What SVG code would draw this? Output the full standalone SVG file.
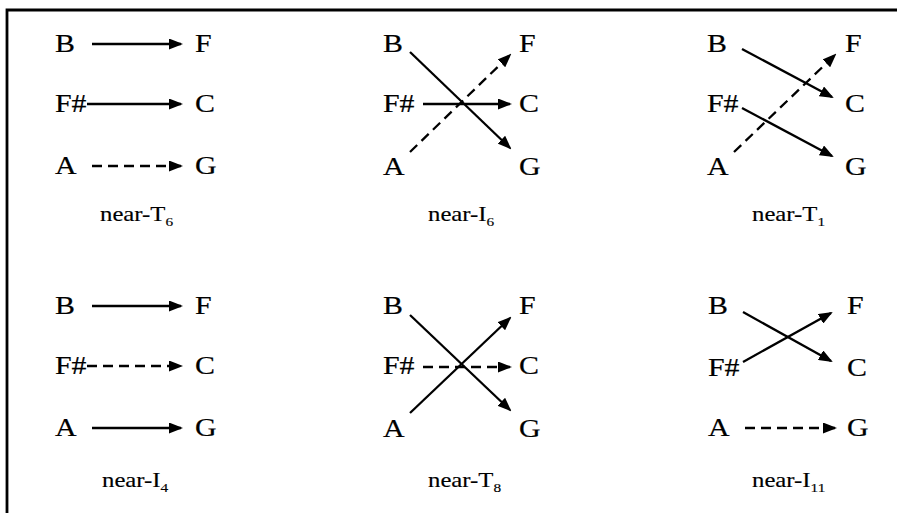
<svg xmlns="http://www.w3.org/2000/svg" width="897" height="513" viewBox="0 0 897 513">
<defs>
<style>
.n{font-family:"Liberation Serif","Times New Roman",serif;font-size:26px;fill:#000;stroke:#000;stroke-width:0.2}
.lb{font-family:"Liberation Serif","Times New Roman",serif;font-size:21px;fill:#000;stroke:#000;stroke-width:0.15}
.sub{font-size:13px}
.c{fill:none;stroke:#000;stroke-width:2.3;marker-end:url(#ah)}
.d{stroke-dasharray:10 6}
.frame{fill:none;stroke:#000;stroke-width:2.8}
</style>
<marker id="ah" markerWidth="14" markerHeight="11" refX="12" refY="5.5" orient="auto" markerUnits="userSpaceOnUse">
<path d="M0,0 L14,5.5 L0,11 z" fill="#000"/>
</marker>
</defs>
<rect width="897" height="513" fill="#fff"/>
<path class="frame" d="M7,513 V10 H897"/>

<g id="connectors">
<path class="c" d="M92,44 H181"/>
<path class="c" d="M87,104 H181"/>
<path class="c d" d="M92,166 H181"/>
<path class="c" d="M410,52 L510,148"/>
<path class="c" d="M423,104 H510"/>
<path class="c d" d="M410,152 L510,55"/>
<path class="c" d="M742,49 L832,97"/>
<path class="c" d="M742,108 L832,156"/>
<path class="c d" d="M734,152 L835,55"/>
<path class="c" d="M92,306 H181"/>
<path class="c d" d="M87,366 H181"/>
<path class="c" d="M92,428 H181"/>
<path class="c" d="M410,315 L510,410"/>
<path class="c" d="M410,413 L510,318"/>
<path class="c d" d="M423,367 H510"/>
<path class="c" d="M743,312 L831,361"/>
<path class="c" d="M743,362 L831,313"/>
<path class="c d" d="M745,428 H835"/>
</g>

<g id="p1-B"><text class="n" transform="translate(55,52) scale(1.15,1)">B</text></g>
<g id="p1-Fs"><text class="n" transform="translate(55,112) scale(1.15,1)">F#</text></g>
<g id="p1-A"><text class="n" transform="translate(55,174) scale(1.15,1)">A</text></g>
<g id="p1-F"><text class="n" transform="translate(195,52) scale(1.15,1)">F</text></g>
<g id="p1-C"><text class="n" transform="translate(195,112) scale(1.15,1)">C</text></g>
<g id="p1-G"><text class="n" transform="translate(195,174) scale(1.15,1)">G</text></g>
<g id="p1-label"><text class="lb" transform="translate(100,221) scale(1.18,1)">near-T<tspan class="sub" dy="5">6</tspan></text></g>

<g id="p2-B"><text class="n" transform="translate(383,52) scale(1.15,1)">B</text></g>
<g id="p2-Fs"><text class="n" transform="translate(383,112) scale(1.15,1)">F#</text></g>
<g id="p2-A"><text class="n" transform="translate(383,175) scale(1.15,1)">A</text></g>
<g id="p2-F"><text class="n" transform="translate(519,52) scale(1.15,1)">F</text></g>
<g id="p2-C"><text class="n" transform="translate(519,112) scale(1.15,1)">C</text></g>
<g id="p2-G"><text class="n" transform="translate(519,175) scale(1.15,1)">G</text></g>
<g id="p2-label"><text class="lb" transform="translate(428,221) scale(1.18,1)">near-I<tspan class="sub" dy="5">6</tspan></text></g>

<g id="p3-B"><text class="n" transform="translate(707,52) scale(1.15,1)">B</text></g>
<g id="p3-Fs"><text class="n" transform="translate(707,112) scale(1.15,1)">F#</text></g>
<g id="p3-A"><text class="n" transform="translate(707,175) scale(1.15,1)">A</text></g>
<g id="p3-F"><text class="n" transform="translate(845,52) scale(1.15,1)">F</text></g>
<g id="p3-C"><text class="n" transform="translate(845,112) scale(1.15,1)">C</text></g>
<g id="p3-G"><text class="n" transform="translate(845,175) scale(1.15,1)">G</text></g>
<g id="p3-label"><text class="lb" transform="translate(752,221) scale(1.18,1)">near-T<tspan class="sub" dy="5">1</tspan></text></g>

<g id="p4-B"><text class="n" transform="translate(55,314) scale(1.15,1)">B</text></g>
<g id="p4-Fs"><text class="n" transform="translate(55,374) scale(1.15,1)">F#</text></g>
<g id="p4-A"><text class="n" transform="translate(55,436) scale(1.15,1)">A</text></g>
<g id="p4-F"><text class="n" transform="translate(195,314) scale(1.15,1)">F</text></g>
<g id="p4-C"><text class="n" transform="translate(195,374) scale(1.15,1)">C</text></g>
<g id="p4-G"><text class="n" transform="translate(195,436) scale(1.15,1)">G</text></g>
<g id="p4-label"><text class="lb" transform="translate(102,487) scale(1.18,1)">near-I<tspan class="sub" dy="5">4</tspan></text></g>

<g id="p5-B"><text class="n" transform="translate(383,314) scale(1.15,1)">B</text></g>
<g id="p5-Fs"><text class="n" transform="translate(383,374) scale(1.15,1)">F#</text></g>
<g id="p5-A"><text class="n" transform="translate(383,437) scale(1.15,1)">A</text></g>
<g id="p5-F"><text class="n" transform="translate(519,314) scale(1.15,1)">F</text></g>
<g id="p5-C"><text class="n" transform="translate(519,374) scale(1.15,1)">C</text></g>
<g id="p5-G"><text class="n" transform="translate(519,437) scale(1.15,1)">G</text></g>
<g id="p5-label"><text class="lb" transform="translate(428,487) scale(1.18,1)">near-T<tspan class="sub" dy="5">8</tspan></text></g>

<g id="p6-B"><text class="n" transform="translate(708,314) scale(1.15,1)">B</text></g>
<g id="p6-Fs"><text class="n" transform="translate(708,376) scale(1.15,1)">F#</text></g>
<g id="p6-A"><text class="n" transform="translate(708,436) scale(1.15,1)">A</text></g>
<g id="p6-F"><text class="n" transform="translate(847,314) scale(1.15,1)">F</text></g>
<g id="p6-C"><text class="n" transform="translate(847,376) scale(1.15,1)">C</text></g>
<g id="p6-G"><text class="n" transform="translate(847,436) scale(1.15,1)">G</text></g>
<g id="p6-label"><text class="lb" transform="translate(752,487) scale(1.18,1)">near-I<tspan class="sub" dy="5">11</tspan></text></g>
</svg>
